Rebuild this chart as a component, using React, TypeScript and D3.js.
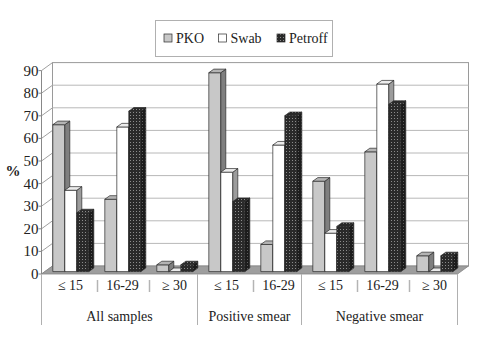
import React from "react";
import * as d3 from "d3";

const categories = ["≤ 15", "16-29", "≥ 30", "≤ 15", "16-29", "≤ 15", "16-29", "≥ 30"];
const groups = ["All samples", "Positive smear", "Negative smear"];
const groupSizes = [3, 2, 3];
const seriesNames = ["PKO", "Swab", "Petroff"];
const pko = [65, 32, 3, 88, 12, 40, 53, 7];
const swab = [36, 64, 0, 44, 56, 17, 83, 0];
const petroff = [26, 71, 3, 31, 69, 20, 74, 7];
const yTicks = [0, 10, 20, 30, 40, 50, 60, 70, 80, 90];

const W = 481, H = 340;
const X0 = 41.5, X1 = 457.5;
const DX = 11, DY = -8;
const FONT = '"Liberation Serif", "Times New Roman", serif';

export default function App() {
  const series = [pko, swab, petroff];
  const yF = d3.scaleLinear().domain([0, 90]).range([274, 70.6]);
  const yB = (v: number) => yF(v) + DY;
  const x = d3.scaleBand<number>().domain(categories.map((_, i) => i)).range([X0, X1]).paddingInner(0).paddingOuter(0);
  const bw = 12;
  const bdx = 5, bdy = -3.6;
  const barOffX = 11.3;
  const barBaseDy = -2.4;

  const faces = [
    { front: "#c8c8c8", side: "#7f7f7f", top: "#b4b4b4" },
    { front: "#ffffff", side: "#9c9c9c", top: "#ececec" },
    { front: "url(#dots)", side: "url(#dotsDark)", top: "url(#dots)" },
  ];

  const bars: JSX.Element[] = [];
  categories.forEach((_, i) => {
    series.forEach((s, j) => {
      const v = s[i];
      const xl = (x(i) as number) + barOffX + j * bw;
      const xr = xl + bw;
      const yb = yF(0) + barBaseDy;
      const yt = yF(v) + barBaseDy;
      const f = faces[j];
      const st = { stroke: "#2a2a2a", strokeWidth: 0.7, strokeLinejoin: "round" as const };
      bars.push(
        <g key={`b${i}-${j}`}>
          {v > 0 && <rect x={xl} y={yt} width={bw} height={yb - yt} fill={f.front} {...st} />}
          {v > 0 && (
            <polygon
              points={`${xr},${yt} ${xr + bdx},${yt + bdy} ${xr + bdx},${yb + bdy} ${xr},${yb}`}
              fill={f.side}
              {...st}
            />
          )}
          <polygon
            points={`${xl},${yt} ${xr},${yt} ${xr + bdx},${yt + bdy} ${xl + bdx},${yt + bdy}`}
            fill={f.top}
            {...st}
          />
        </g>
      );
    });
  });

  const groupBounds: number[] = [0];
  groupSizes.forEach((n, k) => groupBounds.push(groupBounds[k] + n));
  const shortSeps: number[] = [];
  groupSizes.forEach((n, k) => {
    for (let m = 1; m < n; m++) shortSeps.push(groupBounds[k] + m);
  });
  const bx = (i: number) => X0 + i * x.bandwidth();

  return (
    <svg width={W} height={H} style={{ position: "absolute", left: 0, top: 0, background: "#fff" }}>
      <defs>
        <pattern id="dots" width="3" height="3" patternUnits="userSpaceOnUse">
          <rect width="3" height="3" fill="#2a2a2a" />
          <rect x="1" y="1" width="1" height="1" fill="#8c8c8c" />
        </pattern>
        <pattern id="dotsDark" width="3" height="3" patternUnits="userSpaceOnUse">
          <rect width="3" height="3" fill="#1c1c1c" />
          <rect x="1" y="1" width="1" height="1" fill="#5e5e5e" />
        </pattern>
      </defs>

      <rect x={X0 + DX} y={yB(90)} width={X1 - X0} height={yB(0) - yB(90)} fill="#fff" stroke="#9a9a9a" strokeWidth={1} />
      {yTicks.filter((t) => t > 0 && t < 90).map((t) => (
        <line key={`g${t}`} x1={X0 + DX} x2={X1 + DX} y1={yB(t)} y2={yB(t)} stroke="#b8b8b8" strokeWidth={1} />
      ))}
      {yTicks.map((t) => (
        <line key={`s${t}`} x1={X0} y1={yF(t)} x2={X0 + DX} y2={yB(t)} stroke="#a0a0a0" strokeWidth={1} />
      ))}
      <line x1={X0} x2={X0} y1={yF(90)} y2={yF(0)} stroke="#888" strokeWidth={1} />
      <polygon
        points={`${X0},${yF(0)} ${X1},${yF(0)} ${X1 + DX},${yB(0)} ${X0 + DX},${yB(0)}`}
        fill="#9e9e9e"
        stroke="#858585"
        strokeWidth={0.8}
      />

      {bars}

      {yTicks.map((t) => (
        <g key={`t${t}`}>
          <line x1={X0 - 3} x2={X0} y1={yF(t)} y2={yF(t)} stroke="#888" strokeWidth={1} />
          <text x={X0 - 3} y={yF(t) + 5} textAnchor="end" fontFamily={FONT} fontSize={15} fill="#222">
            {t}
          </text>
        </g>
      ))}
      <text x={13} y={176} textAnchor="middle" fontFamily={FONT} fontSize={15} fontWeight="bold" fill="#222">
        %
      </text>

      {categories.map((c, i) => (
        <text key={`c${i}`} x={(x(i) as number) + x.bandwidth() / 2 + 3} y={290} textAnchor="middle" fontFamily={FONT} fontSize={14} fill="#222">
          {c}
        </text>
      ))}
      {shortSeps.map((i) => (
        <line key={`ss${i}`} x1={bx(i) + 4} x2={bx(i) + 4} y1={280} y2={292} stroke="#b4b4b4" strokeWidth={1.5} />
      ))}
      {groupBounds.map((i) => (
        <line key={`gs${i}`} x1={bx(i)} x2={bx(i)} y1={yF(0)} y2={325} stroke="#b0b0b0" strokeWidth={1} />
      ))}
      {groups.map((g, k) => (
        <text
          key={`gl${k}`}
          x={(bx(groupBounds[k]) + bx(groupBounds[k + 1])) / 2}
          y={321}
          textAnchor="middle"
          fontFamily={FONT}
          fontSize={14}
          fill="#222"
        >
          {g}
        </text>
      ))}

      <rect x={155.5} y={20.5} width={177} height={36} fill="#fff" stroke="#b0b0b0" strokeWidth={1} />
      {seriesNames.map((n, j) => {
        const sx = [164, 218.5, 277][j];
        return (
          <g key={`l${j}`}>
            <rect x={sx} y={34} width={8} height={8} fill={faces[j].front} stroke="#2a2a2a" strokeWidth={0.7} />
            <text x={sx + 12} y={43} fontFamily={FONT} fontSize={14} fill="#222">
              {n}
            </text>
          </g>
        );
      })}
    </svg>
  );
}
